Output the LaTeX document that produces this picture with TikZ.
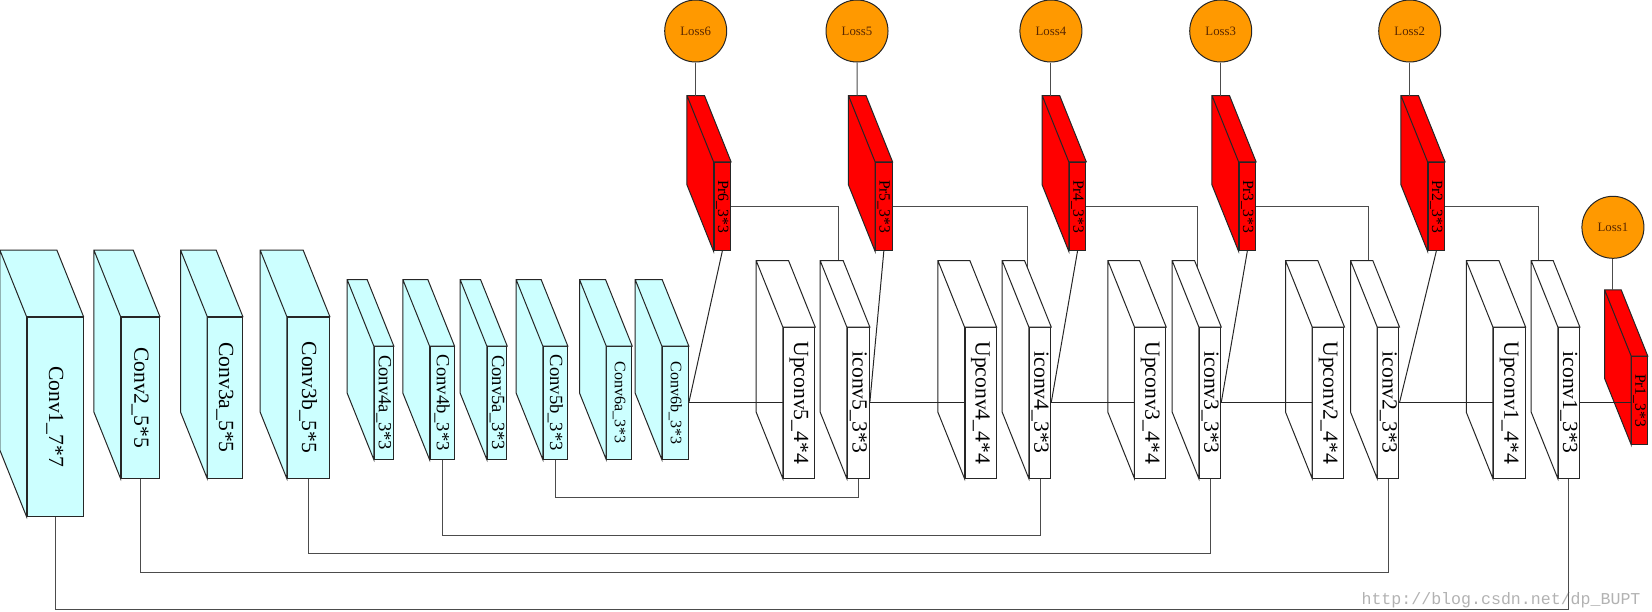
\documentclass[tikz,border=0pt]{standalone}
\usepackage{fontspec}
\setmainfont{Liberation Serif}
\setmonofont{Liberation Mono}
\usetikzlibrary{backgrounds}
\definecolor{convcyan}{RGB}{204,255,255}
\definecolor{lossorange}{RGB}{255,153,0}
\definecolor{losstext}{RGB}{90,40,0}
% depth of every slab (back face offset, in px)
\newcommand{\dpx}{-26.6}
\newcommand{\dpy}{-66.3}

\begin{document}
\begin{tikzpicture}[x=0.5pt, y=-0.5pt, line width=0.5pt]
	\tikzstyle{slab} = [rectangle, draw=black!85, inner sep=0pt]
	\tikzstyle{loss} = [circle, draw=black!85, fill=lossorange, minimum size=31pt, inner sep=0pt, text=losstext, font=\fontsize{6.4}{7}\selectfont]
	\tikzstyle{link} = [draw=black!70]

	\useasboundingbox (0,0) rectangle (1652,611);

	\foreach \name/\x/\y/\w/\h/\col/\fs/\lbl in {
		c1/55/416.5/56/199/convcyan/10.8/Conv1\_7*7, c2/140.2/397.5/38.3/161/convcyan/10.8/Conv2\_5*5,
		c3a/225/397.5/34.6/161/convcyan/10.8/Conv3a\_5*5, c3b/308.3/397.5/42/161/convcyan/10.8/Conv3b\_5*5,
		c4a/383.8/402.75/19/112.5/convcyan/9.3/Conv4a\_3*3, c4b/442/402.75/24/112.5/convcyan/9.3/Conv4b\_3*3,
		c5a/497/402.75/19.4/112.5/convcyan/9.3/Conv5a\_3*3, c5b/555.3/402.75/24/112.5/convcyan/9.3/Conv5b\_3*3,
		c6a/619.2/402.75/25/112.5/convcyan/8/Conv6a\_3*3, c6b/675.3/402.75/26/112.5/convcyan/8/Conv6b\_3*3,
		u5/799/402.75/31.4/150.5/white/10.8/Upconv5\_4*4, i5/858.3/402.75/22/150.5/white/10.8/iconv5\_3*3,
		u4/980.5/402.75/31/150.5/white/10.8/Upconv4\_4*4, i4/1040/402.75/21.4/150.5/white/10.8/iconv4\_3*3,
		u3/1150.3/402.75/30.7/150.5/white/10.8/Upconv3\_4*4, i3/1210/402.75/21.4/150.5/white/10.8/iconv3\_3*3,
		u2/1328.3/402.75/31.3/150.5/white/10.8/Upconv2\_4*4, i2/1388.3/402.75/21.3/150.5/white/10.8/iconv2\_3*3,
		u1/1509.2/402.75/31.7/150.5/white/10.8/Upconv1\_4*4, i1/1568.8/402.75/21/150.5/white/10.8/iconv1\_3*3,
		p6/722.3/206.5/16.5/88.4/red/7.8/Pr6\_3*3, p5/883.8/206.5/16.5/88.4/red/7.8/Pr5\_3*3,
		p4/1077.5/206.5/16.5/88.4/red/7.8/Pr4\_3*3, p3/1247.3/206.5/16.5/88.4/red/7.8/Pr3\_3*3,
		p2/1436.3/206.5/16.5/88.4/red/7.8/Pr2\_3*3, p1/1639.5/400.5/15.6/87.6/red/7.8/Pr1\_3*3}
	{
		\node[slab, fill=\col, minimum width=\w*0.5pt, minimum height=\h*0.5pt] (\name) at (\x,\y) {};
		\draw[fill=\col, draw=black!85] ([shift={(\dpx,\dpy)}]\name.north west) -- ([shift={(\dpx,\dpy)}]\name.north east)
			-- (\name.north east) -- (\name.north west) -- (\name.south west) -- ([shift={(\dpx,\dpy)}]\name.south west) -- cycle
			(\name.north west) -- ([shift={(\dpx,\dpy)}]\name.north west);
		\node[rotate=-90, font=\fontsize{\fs}{\fs}\selectfont] at (\name) {\lbl};
	}

	\foreach \name/\x/\y/\lbl in {l6/695.7/31/Loss6, l5/857/31/Loss5, l4/1050.9/31/Loss4, l3/1220.7/31/Loss3, l2/1409.7/31/Loss2, l1/1612.9/227.3/Loss1}
		\node[loss] (\name) at (\x,\y) {\lbl};

	\foreach \l/\p in {l6/p6, l5/p5, l4/p4, l3/p3, l2/p2, l1/p1}
		\draw[link] (\l.south) -- ([shift={(\dpx,\dpy)}]\p.north);

	% prediction -> next iconv (under the slabs)
	\begin{scope}[on background layer]
		\foreach \p/\i/\s in {p6/i5/-4pt, p5/i4/-0.5pt, p4/i3/-0.5pt, p3/i2/-4.6pt, p2/i1/-9.9pt}
			\draw[link] (\p.east) -| ([xshift=\s]\i.north west);
	\end{scope}

	\foreach \p/\i in {p6/c6b, p5/i5, p4/i4, p3/i3, p2/i2}
		\draw[black!85] (\p.south) -- (\i.east);

	\foreach \from/\to in {c6b/u5, i5/u4, i4/u3, i3/u2, i2/u1}
		\draw[black!85] (\from.east) -- (\to.west);
	\draw[black!85] (i1.east) -- (i1.east -| p1.west);

	\node[font=\ttfamily\fontsize{8.3}{9}\selectfont, text=black!30] (wm) at (1501,600) {http://blog.csdn.net/dp\_BUPT};

	% skip connections
	\foreach \from/\to/\drop in {c1/i1/93, c2/i2/94.3, c3b/i3/75.3, c4b/i4/76, c5b/i5/37.7}
		\draw[link] (\from.south) -- ++(0,\drop) -| (\to.south);
\end{tikzpicture}
\end{document}
